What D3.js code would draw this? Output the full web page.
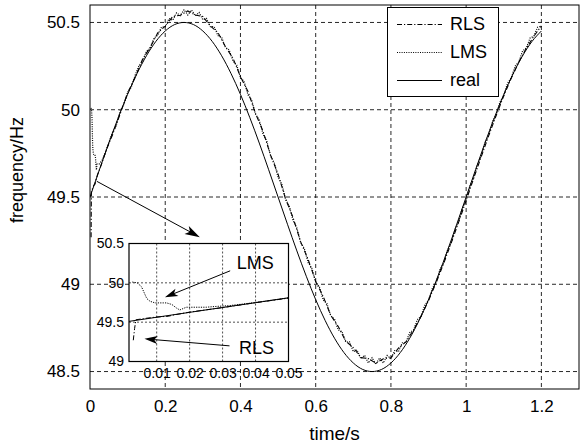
<!DOCTYPE html>
<html><head><meta charset="utf-8">
<script src="https://cdn.jsdelivr.net/npm/d3@7"></script>
<style>
body{margin:0;background:#fff}
svg{display:block}
text{font-family:"Liberation Sans",Arial,Helvetica,sans-serif;fill:#000}
</style>
</head><body>
<svg id="c" width="580" height="446"></svg>
<script>
// ---------------- data ----------------
const xTicks = [0, 0.2, 0.4, 0.6, 0.8, 1, 1.2];
const yTicks = [48.5, 49, 49.5, 50, 50.5];
const insetXTicks = [0.01, 0.02, 0.03, 0.04, 0.05];
const insetYTicks = [49, 49.5, 50, 50.5];
const seriesNames = ["RLS", "LMS", "real"];
const xLabel = "time/s";
const yLabel = "frequency/Hz";

// real frequency, sampled every 0.025 s from t = 0
const realStep = 0.025;
const realValues = [49.5,49.656,49.809,49.954,50.088,50.207,50.309,50.391,50.451,50.488,50.5,50.488,50.451,50.391,50.309,50.207,50.088,49.954,49.809,49.656,49.5,49.344,49.191,49.046,48.912,48.793,48.691,48.609,48.549,48.512,48.5,48.512,48.549,48.609,48.691,48.793,48.912,49.046,49.191,49.344,49.5,49.656,49.809,49.954,50.088,50.207,50.309,50.391,50.451];

// LMS estimate: start-up transient [t, f] then samples every 0.01 s from 0.06 s
const lmsEarly = [[0.0026,50.01],[0.0041,50.0],[0.0054,49.95],[0.007,49.80],[0.008,49.765],[0.0095,49.745],[0.013,49.745],[0.0146,49.725],[0.016,49.68],[0.017,49.655],[0.019,49.69],[0.025,49.69],[0.028,49.70],[0.032,49.71],[0.04,49.75],[0.05,49.81]];
const lmsStart = 0.06, lmsStep = 0.01;
const lmsValues = [49.871,49.912,49.992,50.030,50.100,50.130,50.198,50.251,50.276,50.335,50.352,50.410,50.427,50.473,50.476,50.522,50.513,50.555,50.539,50.573,50.543,50.571,50.538,50.557,50.516,50.523,50.476,50.476,50.425,50.415,50.357,50.343,50.279,50.256,50.186,50.160,50.086,50.054,49.975,49.941,49.860,49.821,49.736,49.696,49.613,49.573,49.486,49.447,49.363,49.323,49.240,49.204,49.124,49.091,49.013,48.984,48.910,48.889,48.819,48.801,48.738,48.729,48.669,48.670,48.614,48.624,48.574,48.593,48.549,48.579,48.542,48.578,48.549,48.592,48.574,48.620,48.614,48.664,48.668,48.723,48.736,48.796,48.817,48.880,48.909,48.976,49.010,49.082,49.121,49.194,49.237,49.312,49.359,49.436,49.484,49.562,49.610,49.687,49.733,49.812,49.855,49.931,49.972,50.045,50.081,50.152,50.183,50.249,50.274,50.337,50.354,50.411,50.422,50.473,50.478];

// RLS estimate: start-up transient [t, f] then samples every 0.02 s from 0.06 s
const rlsEarly = [[0.0029,49.27],[0.0033,49.42],[0.0037,49.53],[0.006,49.545],[0.01,49.566],[0.0135,49.575],[0.015,49.59],[0.02,49.628],[0.03,49.685],[0.04,49.748],[0.05,49.806]];
const rlsStart = 0.06, rlsStep = 0.02;
const rlsValues = [49.857,49.975,50.096,50.186,50.291,50.357,50.440,50.479,50.534,50.541,50.566,50.543,50.534,50.480,50.443,50.361,50.296,50.190,50.104,49.979,49.877,49.740,49.631,49.489,49.381,49.243,49.142,49.016,48.930,48.822,48.758,48.674,48.637,48.580,48.574,48.548,48.573,48.579,48.634,48.670,48.738,48.816,48.907,49.008,49.118,49.235,49.356,49.480,49.607,49.730,49.852,49.968,50.080,50.181,50.273,50.352,50.421,50.480];

// annotation anchors (data units)
const mainArrow = {from:[0.018,49.59], to:[0.292,49.27]};
const lmsArrow = {from:[0.0323,50.153], to:[0.0125,49.816], label:[0.0343,50.25]};
const rlsArrow = {from:[0.0321,49.199], to:[0.0063,49.288], label:[0.0350,49.18]};

// ---------------- build series ----------------
const real = realValues.map((v,i)=>[i*realStep, v]);
const lms = lmsEarly.concat(lmsValues.map((v,i)=>[lmsStart + i*lmsStep, v]));
const rls = rlsEarly.concat(rlsValues.map((v,i)=>[rlsStart + i*rlsStep, v]));

const styles = {
  RLS: {dash:"5,2,1.2,2", width:1.1},
  LMS: {dash:"1,1.3", width:1.2},
  real:{dash:null, width:1}
};

// ---------------- layout ----------------
const svg = d3.select("#c");
svg.append("rect").attr("width",580).attr("height",446).attr("fill","#fff");
const L = 90, R = 579, T = 5, B = 389;
const x = d3.scaleLinear().domain([0,1.3]).range([L,R]);
const y = d3.scaleLinear().domain([48.4,50.6]).range([B,T]);

const FONT = "'Liberation Sans', Arial, sans-serif";

svg.append("clipPath").attr("id","mainClip").append("rect")
  .attr("x",L).attr("y",T).attr("width",R-L).attr("height",B-T);

// grid
const grid = svg.append("g").attr("stroke","#111").attr("stroke-width",0.9).attr("stroke-dasharray","4,3");
grid.selectAll(".gx").data(xTicks.filter(d=>d>0)).join("line")
  .attr("x1",d=>x(d)).attr("x2",d=>x(d)).attr("y1",T).attr("y2",B);
grid.selectAll(".gy").data(yTicks).join("line")
  .attr("x1",L).attr("x2",R).attr("y1",d=>y(d)).attr("y2",d=>y(d));

// curves
const lineGen = (xs, ys, curve) => d3.line().x(d=>xs(d[0])).y(d=>ys(d[1])).curve(curve || d3.curveLinear);
const gMain = svg.append("g").attr("clip-path","url(#mainClip)").attr("fill","none").attr("stroke","#000");
gMain.append("path").datum(real).attr("d", lineGen(x,y,d3.curveMonotoneX)).attr("stroke-width",styles.real.width);
gMain.append("path").datum(lms).attr("d", lineGen(x,y)).attr("stroke-width",styles.LMS.width).attr("stroke-dasharray",styles.LMS.dash);
gMain.append("path").datum(rls).attr("d", lineGen(x,y)).attr("stroke-width",styles.RLS.width).attr("stroke-dasharray",styles.RLS.dash);

// frame
svg.append("rect").attr("x",L).attr("y",T).attr("width",R-L).attr("height",B-T)
  .attr("fill","none").attr("stroke","#000").attr("stroke-width",1);

// axes (tick labels via d3 axes, no tick lines)
const xAxis = d3.axisBottom(x).tickValues(xTicks).tickSize(0).tickPadding(11).tickFormat(d3.format("~g"));
const gx = svg.append("g").attr("transform",`translate(0,${B})`).call(xAxis);
gx.select(".domain").remove();
gx.selectAll("text").attr("font-size",17).attr("font-family",FONT).attr("fill","#000");
const yAxis = d3.axisLeft(y).tickValues(yTicks).tickSize(0).tickPadding(10).tickFormat(d3.format("~g"));
const gy = svg.append("g").attr("transform",`translate(${L},0)`).call(yAxis);
gy.select(".domain").remove();
gy.selectAll("text").attr("font-size",17).attr("font-family",FONT).attr("fill","#000");

// axis labels
svg.append("text").attr("x",(L+R)/2).attr("y",440).attr("text-anchor","middle")
  .attr("font-size",19).text(xLabel);
svg.append("text").attr("transform",`translate(23,170) rotate(-90)`).attr("text-anchor","middle")
  .attr("font-size",18).text(yLabel);

// legend
const lg = svg.append("g");
lg.append("rect").attr("x",387.5).attr("y",7.5).attr("width",111).attr("height",89)
  .attr("fill","#fff").attr("stroke","#000").attr("stroke-width",1);
seriesNames.forEach((n,i)=>{
  const yy = 24 + i*28;
  lg.append("line").attr("x1",397).attr("x2",442).attr("y1",yy+0.5).attr("y2",yy+0.5)
    .attr("stroke","#000").attr("stroke-width",1).attr("stroke-dasharray",styles[n].dash);
  lg.append("text").attr("x",450).attr("y",yy).attr("dy","0.35em").attr("font-size",18).text(n);
});

// ---------------- inset ----------------
const iL = 129, iR = 288.5, iT = 243.5, iB = 361.5;
const xi = d3.scaleLinear().domain([0.0016,0.05]).range([iL,iR]);
const yi = d3.scaleLinear().domain([49,50.5]).range([iB,iT]);
svg.append("clipPath").attr("id","insetClip").append("rect")
  .attr("x",iL).attr("y",iT).attr("width",iR-iL).attr("height",iB-iT);
const gi = svg.append("g");
gi.append("rect").attr("x",iL).attr("y",iT).attr("width",iR-iL).attr("height",iB-iT).attr("fill","#fff");
const igrid = gi.append("g").attr("stroke","#222").attr("stroke-width",0.8).attr("stroke-dasharray","2,2");
igrid.selectAll("line.a").data(insetXTicks.filter(d=>d<0.05)).join("line")
  .attr("x1",d=>xi(d)).attr("x2",d=>xi(d)).attr("y1",iT).attr("y2",iB);
igrid.selectAll("line.b").data(insetYTicks.filter(d=>d>49&&d<50.5)).join("line").attr("class","b")
  .attr("x1",iL).attr("x2",iR).attr("y1",d=>yi(d)).attr("y2",d=>yi(d));
const gic = gi.append("g").attr("clip-path","url(#insetClip)").attr("fill","none").attr("stroke","#000");
gic.append("path").datum(real).attr("d", lineGen(xi,yi,d3.curveMonotoneX)).attr("stroke-width",1);
gic.append("path").datum(lms).attr("d", lineGen(xi,yi)).attr("stroke-width",1).attr("stroke-dasharray","1.2,1.2");
gic.append("path").datum(rls).attr("d", lineGen(xi,yi)).attr("stroke-width",1).attr("stroke-dasharray","5,2,1.2,2");
gi.append("rect").attr("x",iL).attr("y",iT).attr("width",iR-iL).attr("height",iB-iT)
  .attr("fill","none").attr("stroke","#000").attr("stroke-width",1.2);
const ixAxis = d3.axisBottom(xi).tickValues(insetXTicks).tickSize(0).tickPadding(7).tickFormat(d3.format(".2f"));
const gix = gi.append("g").attr("transform",`translate(0,${iB})`).call(ixAxis);
gix.select(".domain").remove();
gix.selectAll("text").attr("font-size",14).attr("font-family",FONT).attr("fill","#000");
const iyAxis = d3.axisLeft(yi).tickValues(insetYTicks).tickSize(0).tickPadding(5).tickFormat(d3.format("~g"));
const giy = gi.append("g").attr("transform",`translate(${iL},0)`).call(iyAxis);
giy.select(".domain").remove();
giy.selectAll("text").attr("font-size",14).attr("font-family",FONT).attr("fill","#000");

// ---------------- arrows ----------------
function arrow(x1,y1,x2,y2,len,hw){
  const dx=x2-x1, dy=y2-y1, d=Math.hypot(dx,dy), ux=dx/d, uy=dy/d;
  const bx=x2-ux*len, by=y2-uy*len;
  const nx=-uy, ny=ux;
  svg.append("line").attr("x1",x1).attr("y1",y1).attr("x2",x2-ux*len*0.6).attr("y2",y2-uy*len*0.6)
    .attr("stroke","#000").attr("stroke-width",1);
  const notchX=x2-ux*len*0.75, notchY=y2-uy*len*0.75;
  svg.append("path").attr("d",`M${x2},${y2}L${bx+nx*hw},${by+ny*hw}L${notchX},${notchY}L${bx-nx*hw},${by-ny*hw}Z`)
    .attr("fill","#000");
}
arrow(x(mainArrow.from[0]),y(mainArrow.from[1]),x(mainArrow.to[0]),y(mainArrow.to[1]),15,4.5);
arrow(xi(lmsArrow.from[0]),yi(lmsArrow.from[1]),xi(lmsArrow.to[0]),yi(lmsArrow.to[1]),13,4);
arrow(xi(rlsArrow.from[0]),yi(rlsArrow.from[1]),xi(rlsArrow.to[0]),yi(rlsArrow.to[1]),13,4);
svg.append("text").attr("x",xi(lmsArrow.label[0])).attr("y",yi(lmsArrow.label[1])).attr("dy","0.35em")
  .attr("font-size",18).text("LMS");
svg.append("text").attr("x",xi(rlsArrow.label[0])).attr("y",yi(rlsArrow.label[1])).attr("dy","0.35em")
  .attr("font-size",18).text("RLS");
</script>
</body></html>
